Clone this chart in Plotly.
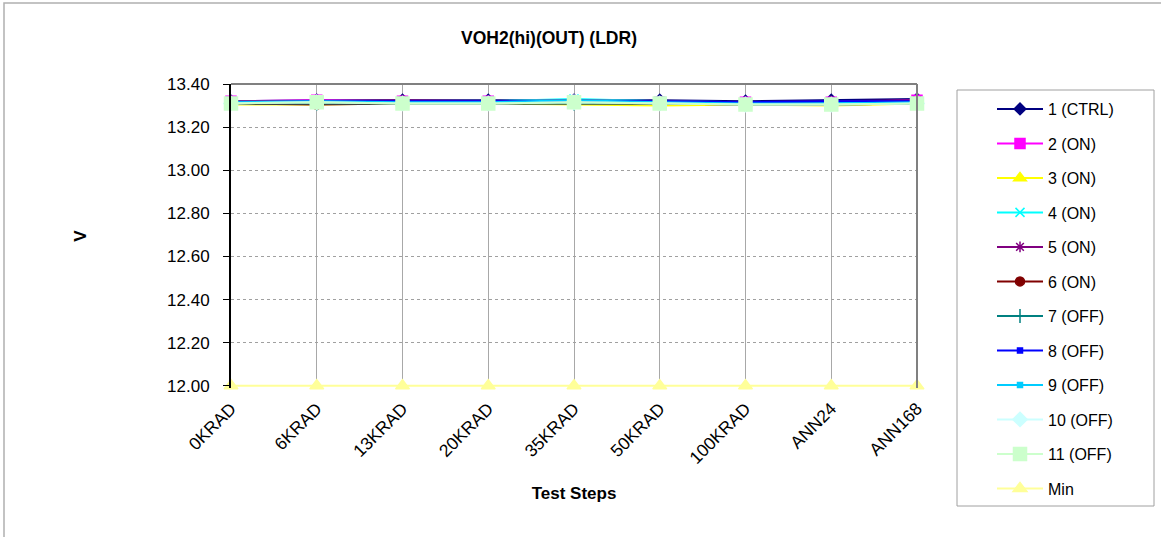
import plotly.graph_objects as go

steps = ["0KRAD", "6KRAD", "13KRAD", "20KRAD", "35KRAD", "50KRAD", "100KRAD", "ANN24", "ANN168"]

s1_ctrl = [13.320, 13.325, 13.325, 13.325, 13.325, 13.325, 13.320, 13.325, 13.330]
s2_on = [13.320, 13.325, 13.320, 13.320, 13.320, 13.315, 13.315, 13.315, 13.325]
s3_on = [13.305, 13.305, 13.310, 13.310, 13.305, 13.300, 13.305, 13.300, 13.310]
s4_on = [13.320, 13.320, 13.320, 13.320, 13.330, 13.320, 13.315, 13.315, 13.320]
s5_on = [13.320, 13.320, 13.325, 13.320, 13.325, 13.320, 13.315, 13.320, 13.325]
s6_on = [13.310, 13.305, 13.310, 13.310, 13.310, 13.310, 13.305, 13.305, 13.310]
s7_off = [13.310, 13.310, 13.310, 13.310, 13.310, 13.310, 13.305, 13.305, 13.310]
s8_off = [13.315, 13.320, 13.320, 13.320, 13.320, 13.320, 13.315, 13.320, 13.320]
s9_off = [13.315, 13.320, 13.315, 13.315, 13.325, 13.315, 13.310, 13.310, 13.315]
s10_off = [13.310, 13.315, 13.310, 13.310, 13.315, 13.310, 13.305, 13.305, 13.310]
s11_off = [13.310, 13.315, 13.310, 13.310, 13.315, 13.310, 13.305, 13.305, 13.310]
min_limit = [12.00, 12.00, 12.00, 12.00, 12.00, 12.00, 12.00, 12.00, 12.00]

y_ticks = [12.0, 12.2, 12.4, 12.6, 12.8, 13.0, 13.2, 13.4]

series = [
    ("1 (CTRL)", s1_ctrl, "#000080", "diamond", 9),
    ("2 (ON)", s2_on, "#FF00FF", "square", 10),
    ("3 (ON)", s3_on, "#FFFF00", "triangle-up", 11),
    ("4 (ON)", s4_on, "#00FFFF", "x-thin-open", 9),
    ("5 (ON)", s5_on, "#800080", "asterisk-open", 9),
    ("6 (ON)", s6_on, "#800000", "circle", 9),
    ("7 (OFF)", s7_off, "#008080", "line-ns-open", 10),
    ("8 (OFF)", s8_off, "#0000FF", "square", 5),
    ("9 (OFF)", s9_off, "#00CCFF", "square", 5),
    ("10 (OFF)", s10_off, "#CCFFFF", "diamond", 11),
    ("11 (OFF)", s11_off, "#CCFFCC", "square", 13),
    ("Min", min_limit, "#FFFF99", "triangle-up", 12),
]

fig = go.Figure()
for i, (name, vals, color, symbol, size) in enumerate(series):
    fig.add_trace(go.Scatter(
        x=list(range(len(steps))), y=vals, name=name, mode="lines+markers",
        line=dict(color=color, width=2),
        marker=dict(symbol=symbol, size=size, color=color,
                    line=dict(color=color, width=1.5)),
        legendgroup=f"g{i}", cliponaxis=False,
    ))

L, R, T, B = 231, 917, 84, 388
W, H = 1161, 537
pw, ph = R - L, B - T


def px_x(x):
    return (x - L) / pw


def px_y(y):
    return (B - y) / ph


fig.update_layout(
    width=W, height=H,
    margin=dict(l=L, r=W - R, t=T, b=H - B, pad=0),
    paper_bgcolor="white", plot_bgcolor="white",
    font=dict(family="Liberation Sans, Arial, sans-serif", color="black"),
    title=dict(text="<b>VOH2(hi)(OUT) (LDR)</b>", x=549 / W, xanchor="center",
               y=1 - 38 / H, yanchor="middle", font=dict(size=17.5)),
    showlegend=True,
    legend=dict(x=px_x(992), y=px_y(92), xanchor="left", yanchor="top",
                font=dict(size=16), bgcolor="rgba(0,0,0,0)", borderwidth=0,
                tracegroupgap=10.7, itemwidth=46, maxheight=520),
    xaxis=dict(
        range=[0, len(steps) - 1], tickmode="array",
        tickvals=list(range(len(steps))), ticktext=steps, tickangle=-45,
        tickfont=dict(size=17.5), showgrid=True, gridcolor="#A8A8A8", gridwidth=1,
        zeroline=False, showline=False, ticks="", ticklabelstandoff=6,
        title=dict(text="<b>Test Steps</b>", font=dict(size=17), standoff=20),
    ),
    yaxis=dict(
        range=[11.99, 13.4], tickmode="array", tickvals=y_ticks,
        ticktext=[f"{v:.2f}" for v in y_ticks], tickfont=dict(size=17),
        showgrid=True, gridcolor="#A0A0A0", gridwidth=1, griddash="dot",
        zeroline=False, showline=True, linecolor="black", linewidth=2,
        ticks="outside", ticklen=6, tickcolor="black", ticklabelstandoff=10,
        title=dict(text="<b>V</b>", font=dict(size=17), standoff=76),
    ),
    shapes=[
        # plot area frame (top and right)
        dict(type="line", xref="paper", yref="paper", x0=0, x1=1, y0=1, y1=1,
             line=dict(color="#808080", width=2)),
        dict(type="line", xref="paper", yref="paper", x0=1, x1=1, y0=0, y1=1,
             line=dict(color="#808080", width=2)),
        # legend box
        dict(type="rect", xref="paper", yref="paper",
             x0=px_x(957), x1=px_x(1154), y0=px_y(506), y1=px_y(90),
             line=dict(color="#A0A0A0", width=1)),
        # outer chart border
        dict(type="rect", xref="paper", yref="paper",
             x0=px_x(4), x1=px_x(1170), y0=px_y(545), y1=px_y(3),
             line=dict(color="#B0B0B0", width=1.5)),
    ],
)

fig.write_html("out.html")
